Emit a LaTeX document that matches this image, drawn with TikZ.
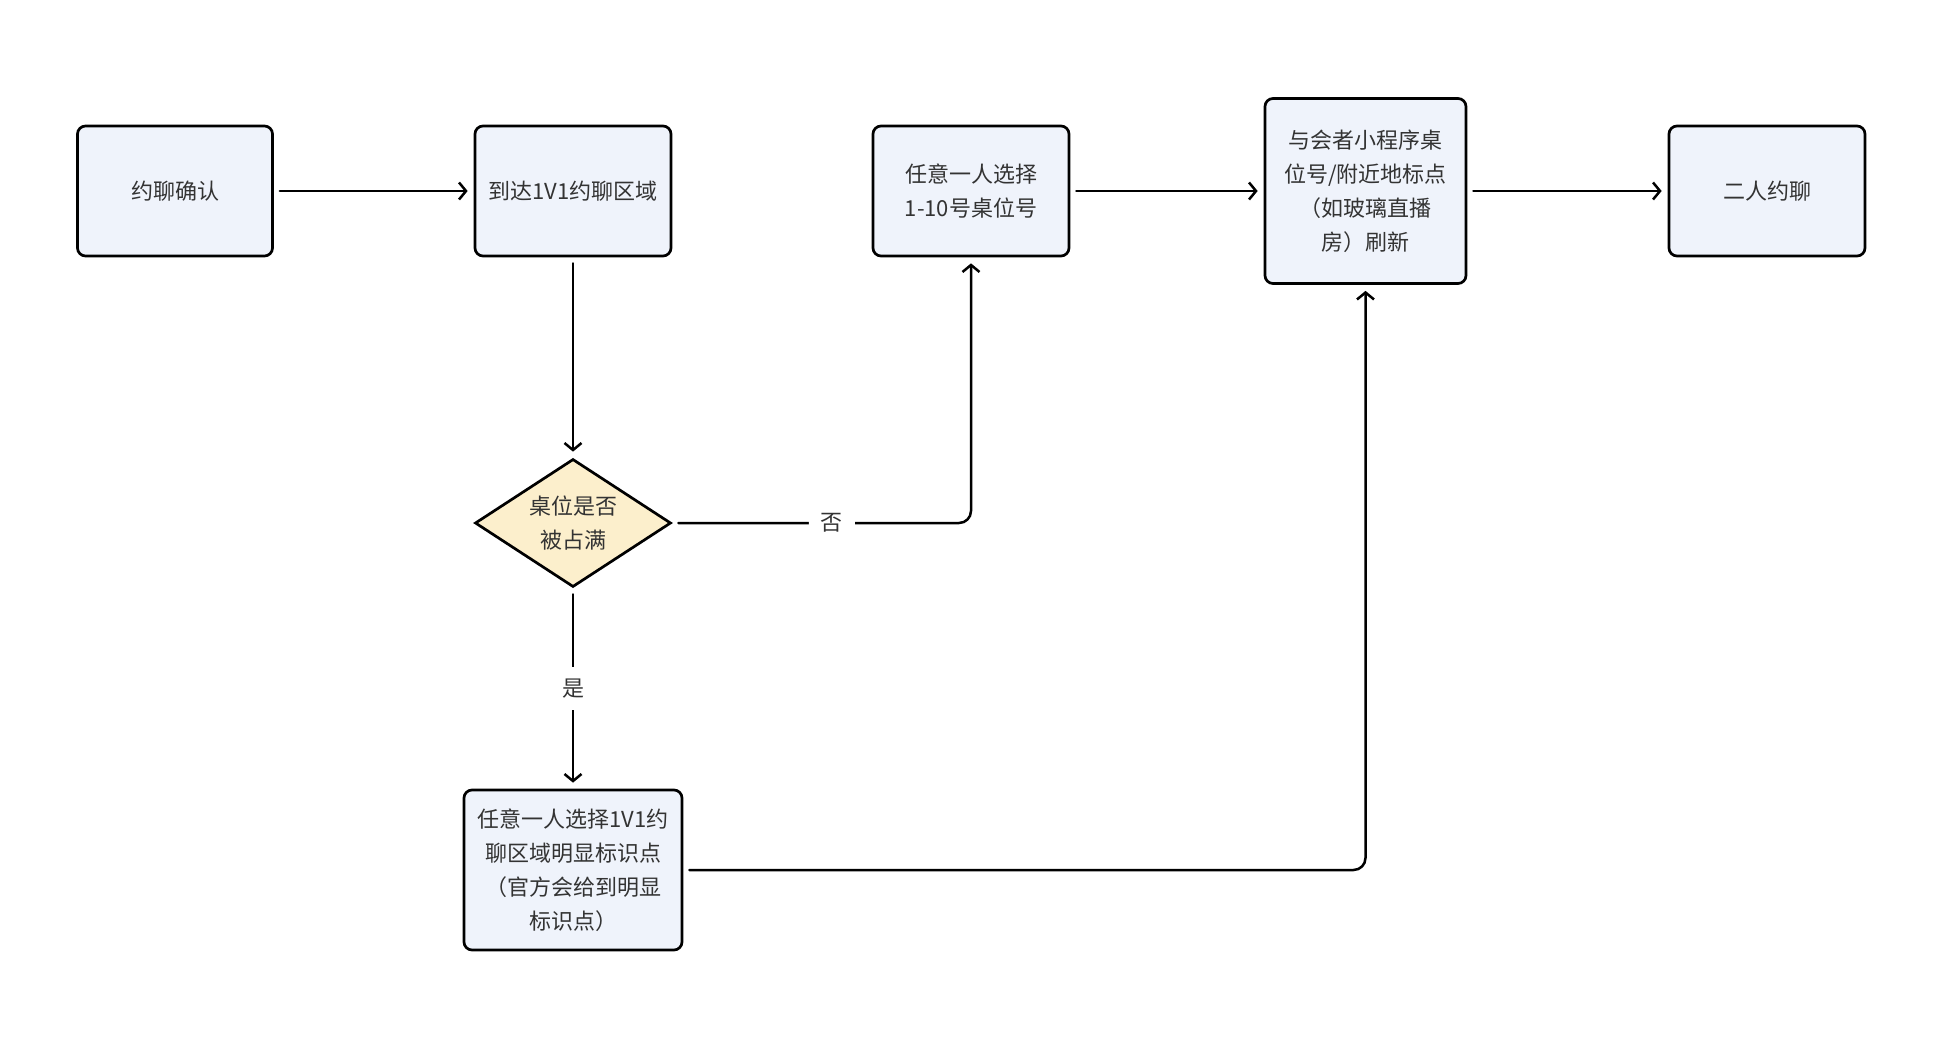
\documentclass[tikz,border=0pt]{standalone}
\usepackage{fontspec}
\setmainfont{Noto Sans CJK SC}
\usetikzlibrary{shapes.geometric,arrows.meta}
\definecolor{boxfill}{HTML}{EFF3FB}
\definecolor{decfill}{HTML}{FCEFCC}
\definecolor{txtcol}{HTML}{333333}
\begin{document}
\begin{tikzpicture}[x=1pt,y=-1pt,
  every node/.style={font=\fontsize{22}{34}\selectfont, text=txtcol, align=center},
  procbox/.style={draw=black, line width=2.7pt, fill=boxfill, rounded corners=8pt, inner sep=0pt},
  decbox/.style={draw=black, line width=2.7pt, fill=decfill, shape=diamond, inner sep=0pt},
  conn/.style={line width=2.5pt, line cap=round, -{Straight Barb[length=7pt,width=17pt]}, shorten >=6pt, shorten <=6pt},
  lbl/.style={fill=white, inner sep=12pt}]
\useasboundingbox (0,0) rectangle (1960,1044);
\node[procbox, minimum width=195pt, minimum height=130pt] (b1) at (175,191) {约聊确认};
\node[procbox, minimum width=196pt, minimum height=130pt] (b2) at (573,191) {到达1V1约聊区域};
\node[procbox, minimum width=196pt, minimum height=130pt] (b3) at (971,191) {任意一人选择\\1-10号桌位号};
\node[procbox, minimum width=201pt, minimum height=185pt] (b4) at (1365.5,191) {与会者小程序桌\\位号/附近地标点\\（如玻璃直播\\房）刷新};
\node[procbox, minimum width=196pt, minimum height=130pt] (b5) at (1767,191) {二人约聊};
\node[decbox, minimum width=196pt, minimum height=128pt] (d) at (573,523) {};
\node (dt) at (d.center) {桌位是否\\被占满};
\node[procbox, minimum width=218pt, minimum height=160pt] (b6) at (573,870) {任意一人选择1V1约\\聊区域明显标识点\\（官方会给到明显\\标识点）};
\draw[conn] (b1) -- (b2);
\draw[conn] (b2) -- (d);
\draw[conn] (b3) -- (b4);
\draw[conn] (b4) -- (b5);
\draw[conn, rounded corners=12pt] (d.east) -| node[lbl, pos=0.267] {否} (b3.south);
\draw[conn] (d.south) -- node[lbl] {是} (b6.north);
\draw[conn, rounded corners=12pt] (b6.east) -| (b4.south);
\end{tikzpicture}
\end{document}
